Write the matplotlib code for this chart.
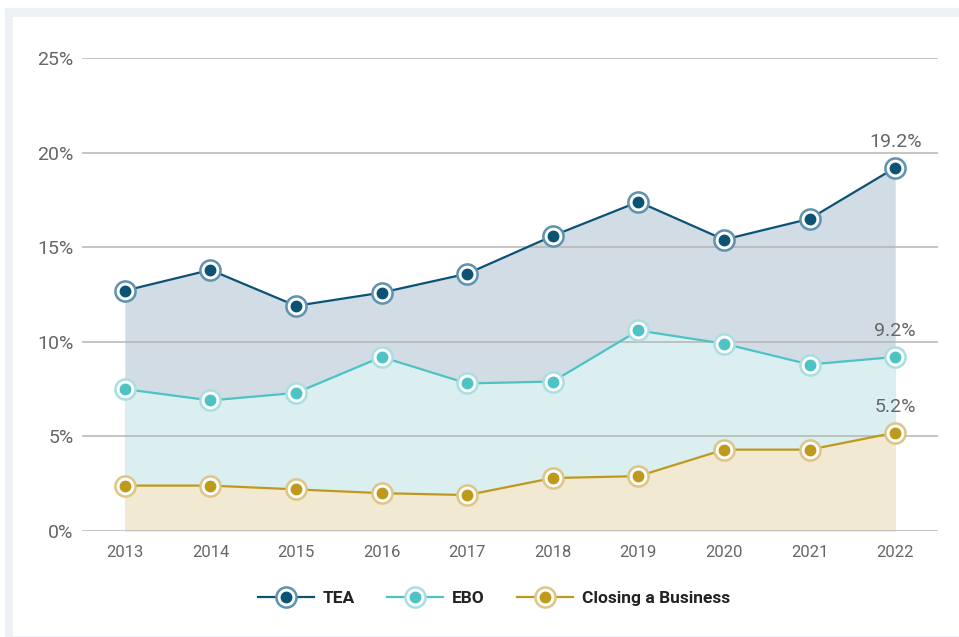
import matplotlib
matplotlib.use("Agg")
import matplotlib.pyplot as plt
from matplotlib.patches import Rectangle
from matplotlib.lines import Line2D
from matplotlib.legend_handler import HandlerTuple

plt.rcParams['font.family'] = ['Roboto', 'DejaVu Sans']

years = [2013, 2014, 2015, 2016, 2017, 2018, 2019, 2020, 2021, 2022]
tea = [12.7, 13.8, 11.9, 12.6, 13.6, 15.6, 17.4, 15.4, 16.5, 19.2]
ebo = [7.5, 6.9, 7.3, 9.2, 7.8, 7.9, 10.6, 9.9, 8.8, 9.2]
closing = [2.4, 2.4, 2.2, 2.0, 1.9, 2.8, 2.9, 4.3, 4.3, 5.2]

series = [
    ("TEA", tea, "#0b5275", "#5e92b0", "#d1dce4"),
    ("EBO", ebo, "#4dc3c5", "#a9dfe1", "#dbeff1"),
    ("Closing a Business", closing, "#bf991c", "#dfc584", "#f2e9d3"),
]

fig = plt.figure(figsize=(9.59, 6.37), dpi=100)
fig.patch.set_facecolor("white")
# grey frame band on left / top / bottom
fig.patches.append(Rectangle((5 / 959, 0), 1, (637 - 8) / 637,
                             transform=fig.transFigure, color="#edf1f5", zorder=-2))
fig.patches.append(Rectangle((13 / 959, 2 / 637), 1, (635 - 17) / 637,
                             transform=fig.transFigure, color="white", zorder=-1))

ax = fig.add_axes([82 / 959, (637 - 531) / 637, (938 - 82) / 959, (531 - 58) / 637])
ax.set_facecolor("none")

for name, vals, c, ring, fill in series:
    ax.fill_between(years, 0, vals, color=fill, lw=0, zorder=1)

for name, vals, c, ring, fill in series:
    ax.plot(years, vals, color=c, lw=1.6, zorder=3)
    ax.plot(years, vals, ls="none", marker="o", ms=14.5, mfc="white", mec=ring, mew=1.8, zorder=4)
    ax.plot(years, vals, ls="none", marker="o", ms=7.5, mfc=c, mec=c, zorder=5)
    ax.annotate(f"{vals[-1]:.1f}%", (years[-1], vals[-1]), xytext=(0, 12),
                textcoords="offset points", ha="center", va="bottom",
                fontsize=14, color="#666666")

ax.set_xlim(2012.5, 2022.5)
ax.set_ylim(0, 25)
ax.set_yticks([0, 5, 10, 15, 20, 25])
ax.set_yticklabels([f"{v}%" for v in [0, 5, 10, 15, 20, 25]])
ax.set_xticks(years)
ax.grid(axis="y", color="#b5b5b5", lw=1.1, zorder=2)
ax.set_axisbelow(False)
for s in ax.spines.values():
    s.set_visible(False)
ax.tick_params(axis="both", length=0, colors="#666666")
ax.tick_params(axis="y", labelsize=14, pad=6)
ax.tick_params(axis="x", labelsize=12, pad=10)

handles = []
for name, vals, c, ring, fill in series:
    h1 = Line2D([], [], color=c, lw=1.6, marker="o", ms=14.5, mfc="white", mec=ring, mew=1.8)
    h2 = Line2D([], [], ls="none", marker="o", ms=7.5, mfc=c, mec=c)
    handles.append((h1, h2))
leg = fig.legend(handles, [s[0] for s in series], loc="center", bbox_to_anchor=(0.515, (637 - 598) / 637),
                 ncol=3, frameon=False, handler_map={tuple: HandlerTuple(ndivide=1)},
                 handlelength=3.2, columnspacing=1.9, handletextpad=0.5,
                 prop={"size": 12.5, "weight": "bold"})
for t in leg.get_texts():
    t.set_color("#222222")

fig.savefig("out.png", dpi=100)
